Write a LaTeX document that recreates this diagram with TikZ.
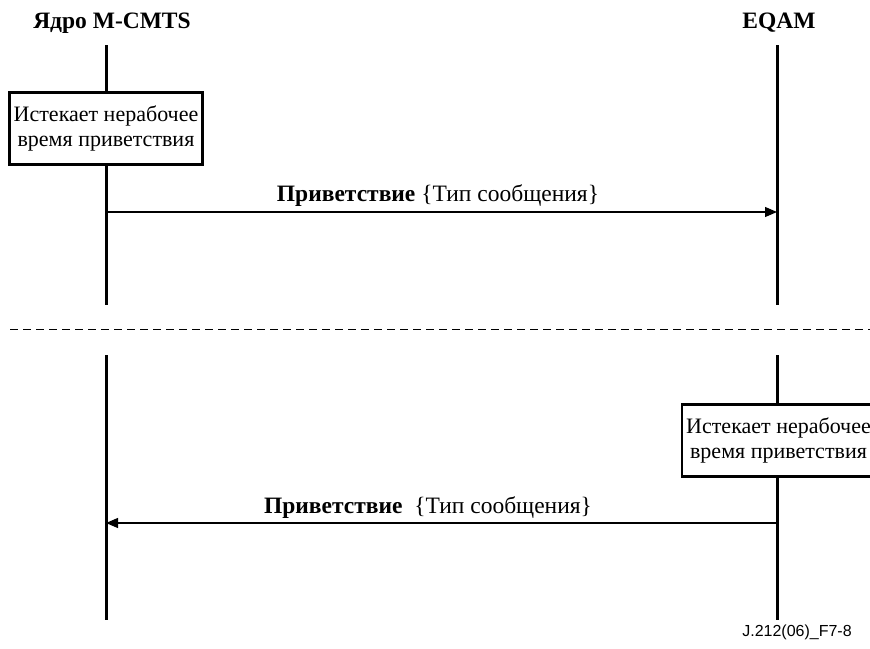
\documentclass[tikz,border=0pt]{standalone}
\usepackage{fontspec}
\setmainfont{Liberation Serif}
\setsansfont{Liberation Sans}
\usetikzlibrary{arrows.meta}
\begin{document}
\begin{tikzpicture}[x=1pt,y=-1pt,
  life/.style={line width=3pt},
  timer/.style={draw, line width=2.5pt, fill=white, align=center,
    font=\fontsize{22}{25}\selectfont, minimum width=193pt, minimum height=72pt, inner sep=0pt},
  msg/.style={line width=1.2pt, -{Triangle[length=12pt,width=10pt]}},
  hdr/.style={font=\fontsize{23.5}{26}\selectfont\bfseries},
  lbl/.style={font=\fontsize{23.5}{26}\selectfont},
  sep/.style={line width=1pt, dash pattern=on 8pt off 5pt},
  figid/.style={font=\sffamily\fontsize{16}{18}\selectfont}
]
\useasboundingbox (0,0) rectangle (870,648);

% Entities
\node[hdr] (cmts) at (112,23) {Ядро M-CMTS};
\node[hdr] (eqam) at (779,23) {EQAM};

% Upper section lifelines
\coordinate (c1t) at (106,45);
\coordinate (c1b) at (106,305);
\coordinate (e1t) at (777,45);
\coordinate (e1b) at (777,305);
\node[timer] (t1) at (106,128.5) {Истекает нерабочее\\время приветствия};
\draw[life] (c1t) -- (t1.north);
\draw[life] (t1.south) -- (c1b);
\draw[life] (e1t) -- (e1b);

% Upper message
\coordinate (m1s) at (106,212);
\coordinate (m1e) at (777,212);
\draw[msg] (m1s) -- (m1e);
\node[lbl] (l1) at (438,196) {\textbf{Приветствие} \{Тип сообщения\}};

% Separator
\coordinate (sa) at (10,329);
\coordinate (sb) at (870,329);
\draw[sep] (sa) -- (sb);

% Lower section lifelines
\coordinate (c2t) at (106,355);
\coordinate (c2b) at (106,620);
\coordinate (e2t) at (777,355);
\coordinate (e2b) at (777,620);
\node[timer] (t2) at (778.5,440.5) {Истекает нерабочее\\время приветствия};
\draw[life] (c2t) -- (c2b);
\draw[life] (e2t) -- (t2.north -| e2t);
\draw[life] (t2.south -| e2t) -- (e2b);

% Lower message
\coordinate (m2s) at (777,523);
\coordinate (m2e) at (106,523);
\draw[msg] (m2s) -- (m2e);
\node[lbl] (l2) at (428,508) {\textbf{Приветствие}\ \ \{Тип сообщения\}};

% Figure id
\node[figid] (fid) at (797,632) {J.212(06)\_F7-8};
\end{tikzpicture}
\end{document}
